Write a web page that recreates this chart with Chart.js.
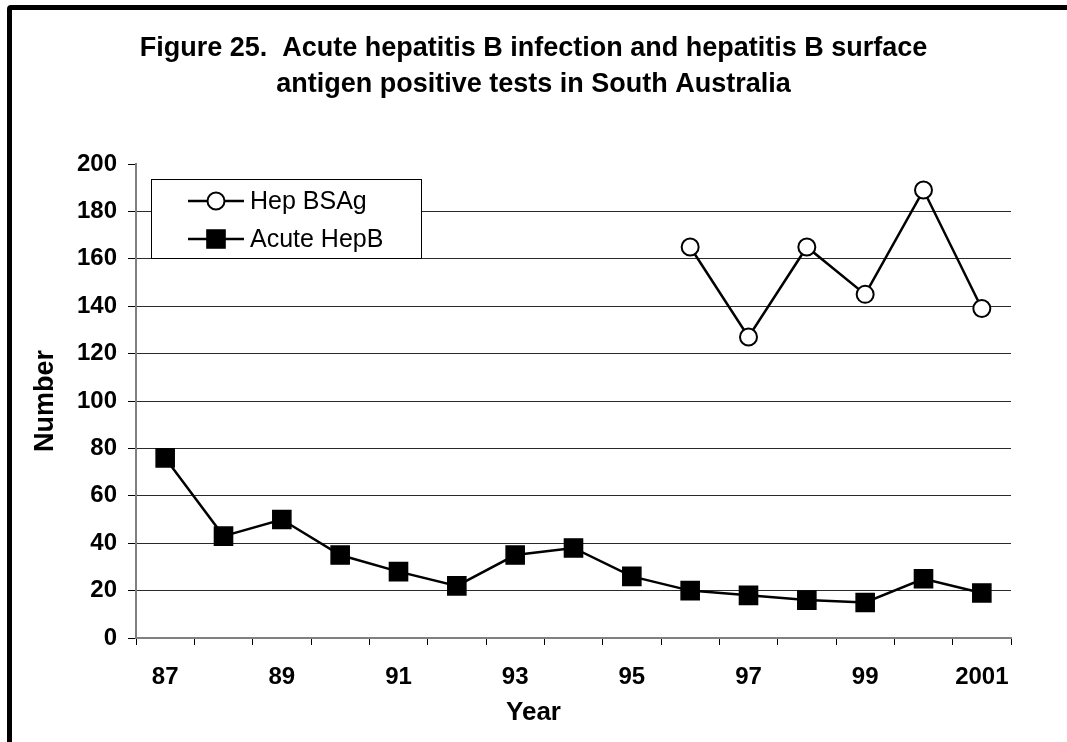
<!DOCTYPE html>
<html>
<head>
<meta charset="utf-8">
<title>Acute hepatitis B in South Australia</title>
<script src="https://cdn.jsdelivr.net/npm/chart.js@4/dist/chart.umd.min.js"></script>
<style>
  html, body { margin: 0; padding: 0; background: #fff; overflow: hidden; }
  #wrap { position: relative; width: 1067px; height: 742px; }
  #chart { position: absolute; left: 0; top: 0; }
  #frame {
    position: absolute; left: 7px; top: 5px; width: 1200px; height: 900px;
    border: 5px solid #000; border-radius: 4px; box-sizing: border-box;
    pointer-events: none;
  }
</style>
</head>
<body>
<div id="wrap">
  <canvas id="chart" width="1067" height="742"></canvas>
  <div id="frame"></div>
</div>
<script>
// Years (two-digit up to 1999, then full years)
const categories = ['87', '88', '89', '90', '91', '92', '93', '94', '95', '96', '97', '98', '99', '2000', '2001'];
// Only every second year is labelled on the axis
const tickLabels = ['87', '', '89', '', '91', '', '93', '', '95', '', '97', '', '99', '', '2001'];
// Hepatitis B surface antigen positive tests (reported from 1996)
const hepBSAg = [null, null, null, null, null, null, null, null, null, 165, 127, 165, 145, 189, 139];
// Acute hepatitis B notifications
const acuteHepB = [76, 43, 50, 35, 28, 22, 35, 38, 26, 20, 18, 16, 15, 25, 19];
// Value axis
const yMin = 0, yMax = 200, yStep = 20;
const xAxisTitle = 'Year';

const FONT = '"Liberation Sans", Arial, Helvetica, sans-serif';

// Boxed legend drawn inside the plot area, top-left
const boxLegend = {
  id: 'boxLegend',
  afterDraw(chart) {
    const ctx = chart.ctx;
    const x0 = 151, y0 = 179, w = 270, h = 79;
    ctx.save();
    ctx.fillStyle = '#fff';
    ctx.fillRect(x0, y0, w, h);
    ctx.strokeStyle = '#000';
    ctx.lineWidth = 1;
    ctx.strokeRect(x0 + 0.5, y0 + 0.5, w, h);
    const rows = [201, 239];
    chart.data.datasets.forEach((ds, i) => {
      const y = rows[i];
      ctx.strokeStyle = ds.borderColor;
      ctx.lineWidth = ds.borderWidth;
      ctx.beginPath();
      ctx.moveTo(188, y);
      ctx.lineTo(244, y);
      ctx.stroke();
      const mx = 216;
      ctx.lineWidth = ds.pointBorderWidth;
      ctx.fillStyle = ds.pointBackgroundColor;
      ctx.strokeStyle = ds.pointBorderColor;
      if (ds.pointStyle === 'rect') {
        const s = ds.pointRadius * Math.SQRT1_2;
        ctx.beginPath();
        ctx.rect(mx - s, y - s, 2 * s, 2 * s);
        ctx.fill();
        ctx.stroke();
      } else {
        ctx.beginPath();
        ctx.arc(mx, y, ds.pointRadius, 0, Math.PI * 2);
        ctx.fill();
        ctx.stroke();
      }
      ctx.fillStyle = '#000';
      ctx.font = '25px ' + FONT;
      ctx.textAlign = 'left';
      ctx.textBaseline = 'middle';
      ctx.fillText(ds.label, 250, y + 1);
    });
    ctx.restore();
  }
};

// "Year" caption, centred on the whole figure rather than the plot
const xCaption = {
  id: 'xCaption',
  afterDraw(chart) {
    const ctx = chart.ctx;
    ctx.save();
    ctx.fillStyle = '#000';
    ctx.font = 'bold 26px ' + FONT;
    ctx.textAlign = 'center';
    ctx.textBaseline = 'middle';
    ctx.fillText(xAxisTitle, chart.width / 2, 713);
    ctx.restore();
  }
};

new Chart(document.getElementById('chart'), {
  type: 'line',
  data: {
    labels: categories,
    datasets: [
      {
        label: 'Hep BSAg',
        data: hepBSAg,
        borderColor: '#000',
        borderWidth: 2.5,
        pointStyle: 'circle',
        pointRadius: 8.5,
        pointBorderWidth: 2,
        pointBackgroundColor: '#fff',
        pointBorderColor: '#000',
        spanGaps: false,
        clip: false
      },
      {
        label: 'Acute HepB',
        data: acuteHepB,
        borderColor: '#000',
        borderWidth: 2.5,
        pointStyle: 'rect',
        pointRadius: 12.8,
        pointBorderWidth: 1.5,
        pointBackgroundColor: '#000',
        pointBorderColor: '#000',
        clip: false
      }
    ]
  },
  options: {
    responsive: false,
    animation: false,
    devicePixelRatio: 1,
    layout: { padding: { left: 0, right: 0, top: 0, bottom: 0 } },
    plugins: {
      legend: { display: false },
      tooltip: { enabled: false },
      title: {
        display: true,
        text: ['Figure 25.  Acute hepatitis B infection and hepatitis B surface',
               'antigen positive tests in South Australia'],
        color: '#000',
        font: { family: FONT, size: 27, weight: 'bold', lineHeight: '36px' },
        padding: { top: 31, bottom: 61 }
      }
    },
    scales: {
      x: {
        type: 'category',
        offset: true,
        grid: {
          offset: true,
          drawOnChartArea: false,
          drawTicks: true,
          tickLength: 7,
          tickColor: '#000',
          tickWidth: 1
        },
        border: { display: true, color: '#808080', width: 2 },
        ticks: {
          autoSkip: false,
          maxRotation: 0,
          color: '#000',
          padding: 18,
          font: { family: FONT, size: 24, weight: 'bold' },
          callback: (v, i) => tickLabels[i]
        },
        title: { display: false },
        afterFit: s => { s.height = 104; }
      },
      y: {
        type: 'linear',
        min: yMin,
        max: yMax,
        ticks: {
          stepSize: yStep,
          color: '#000',
          padding: 11,
          font: { family: FONT, size: 24, weight: 'bold' }
        },
        grid: {
          drawTicks: true,
          tickLength: 8,
          tickColor: '#000',
          lineWidth: 1,
          color: c => (c.tick && (c.tick.value === yMax || c.tick.value === yMin)) ? 'rgba(0,0,0,0)' : '#2a2a2a'
        },
        border: { display: true, color: '#808080', width: 2 },
        title: {
          display: true,
          text: 'Number',
          color: '#000',
          font: { family: FONT, size: 27, weight: 'bold', lineHeight: 1.2 },
          padding: { top: 29, bottom: 0 }
        },
        afterFit: s => { s.width = 136; }
      },
      // blank right-hand margin beside the plot
      yRight: {
        type: 'linear',
        position: 'right',
        display: true,
        grid: { display: false, drawTicks: false },
        border: { display: false },
        ticks: { display: false },
        afterFit: s => { s.width = 56; }
      }
    }
  },
  plugins: [boxLegend, xCaption]
});
</script>
</body>
</html>
